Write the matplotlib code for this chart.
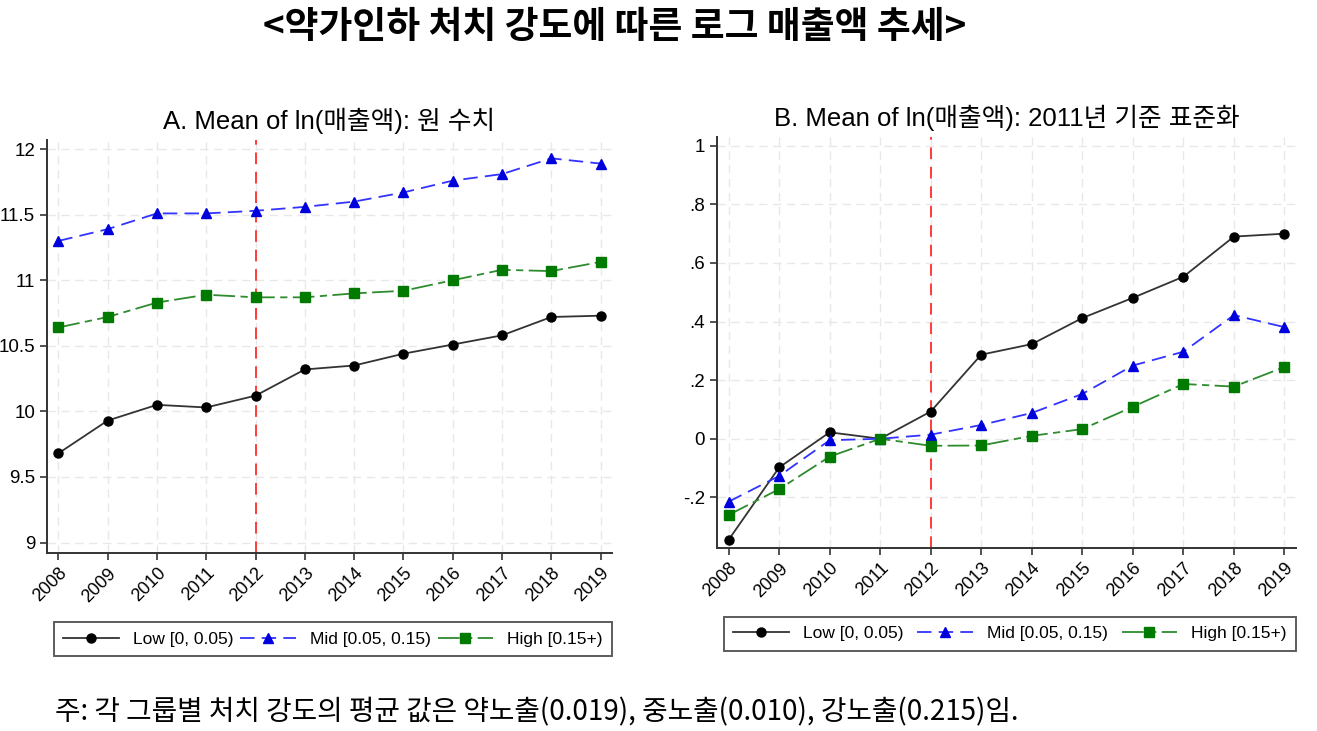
import numpy as np
import matplotlib
matplotlib.use('Agg')
import matplotlib.pyplot as plt
from matplotlib import font_manager

# 데이터
years = [2008, 2009, 2010, 2011, 2012, 2013, 2014, 2015, 2016, 2017, 2018, 2019]

raw_low = [9.68, 9.93, 10.05, 10.03, 10.12, 10.32, 10.35, 10.44, 10.51, 10.58, 10.72, 10.73]
raw_mid = [11.30, 11.39, 11.51, 11.51, 11.53, 11.56, 11.60, 11.67, 11.76, 11.81, 11.93, 11.89]
raw_high = [10.64, 10.72, 10.83, 10.89, 10.87, 10.87, 10.90, 10.92, 11.00, 11.08, 11.07, 11.14]

std_low = [-0.345, -0.098, 0.022, 0.0, 0.093, 0.287, 0.323, 0.412, 0.481, 0.553, 0.690, 0.700]
std_mid = [-0.215, -0.127, -0.005, 0.0, 0.014, 0.047, 0.088, 0.153, 0.250, 0.297, 0.422, 0.381]
std_high = [-0.260, -0.172, -0.061, 0.0, -0.024, -0.023, 0.010, 0.033, 0.109, 0.187, 0.178, 0.245]

group_labels = ['Low [0, 0.05)', 'Mid [0.05, 0.15)', 'High [0.15+)']

left_yticks = [9, 9.5, 10, 10.5, 11, 11.5, 12]
left_yticklabels = ['9', '9.5', '10', '10.5', '11', '11.5', '12']
right_yticks = [-0.2, 0, 0.2, 0.4, 0.6, 0.8, 1.0]
right_yticklabels = ['-.2', '0', '.2', '.4', '.6', '.8', '1']

main_title = '<약가인하 처치 강도에 따른 로그 매출액 추세>'
title_a = 'A. Mean of ln(매출액): 원 수치'
title_b = 'B. Mean of ln(매출액): 2011년 기준 표준화'
note = '주: 각 그룹별 처치 강도의 평균 값은 약노출(0.019), 중노출(0.010), 강노출(0.215)임.'
cutoff_year = 2012

# 폰트
installed = {f.name for f in font_manager.fontManager.ttflist}
narrow = 'Liberation Sans Narrow' if 'Liberation Sans Narrow' in installed else 'Liberation Sans'
TXT = [narrow, 'Noto Sans CJK KR', 'DejaVu Sans']
KR = ['Noto Sans CJK KR', 'DejaVu Sans']
plt.rcParams['font.family'] = TXT

STYLES = [
    dict(color='#333333', marker='o', ls='-', mfc='black', mec='black'),
    dict(color='#3333ff', marker='^', ls=(0, (8, 4)), mfc='#0000dd', mec='#0000dd'),
    dict(color='#2e8b2e', marker='s', ls=(0, (12, 3, 4, 3)), mfc='#007a00', mec='#007a00'),
]


def draw_panel(ax, series, title, yticks, ylabels, ylim, title_size):
    for vals, lab, st in zip(series, group_labels, STYLES):
        ax.plot(years, vals, color=st['color'], ls=st['ls'], lw=1.3,
                marker=st['marker'], ms=6.5, mfc=st['mfc'], mec=st['mec'], label=lab)
    ax.axvline(cutoff_year, color='#ff3b3b', ls=(0, (6, 4)), lw=1.4, zorder=1)
    ax.set_xlim(2007.77, 2019.23)
    ax.set_ylim(*ylim)
    ax.set_xticks(years)
    ax.set_xticklabels([str(y) for y in years], rotation=45, ha='right',
                       rotation_mode='anchor', fontsize=13)
    ax.set_yticks(yticks)
    ax.set_yticklabels(ylabels, fontsize=13.5)
    ax.grid(True, color='#e8e8e8', ls=(0, (6, 4)), lw=1)
    ax.set_axisbelow(True)
    for s in ['top', 'right']:
        ax.spines[s].set_visible(False)
    for s in ['left', 'bottom']:
        ax.spines[s].set_color('#333333')
        ax.spines[s].set_linewidth(1.4)
    ax.tick_params(direction='out', length=5, width=1.2, color='#333333')
    ax.set_title(title, fontsize=title_size, pad=8, family=['Liberation Sans', 'Noto Sans CJK KR'])
    leg = ax.legend(loc='upper left', bbox_to_anchor=(0.012, -0.25, 0.988, 0.083),
                    mode='expand', ncol=3, fontsize=12.5, frameon=True, fancybox=False,
                    handlelength=3.2, borderaxespad=0, borderpad=0.55)
    leg.get_frame().set_edgecolor('#333333')
    leg.get_frame().set_linewidth(1.4)


fig = plt.figure(figsize=(13.17, 7.31), dpi=100)
ax1 = fig.add_axes([0.0357, 0.2435, 0.429, 0.565])
ax2 = fig.add_axes([0.5444, 0.2503, 0.4397, 0.5623])

draw_panel(ax1, [raw_low, raw_mid, raw_high], title_a, left_yticks, left_yticklabels,
           (8.92, 12.07), 18.5)
draw_panel(ax2, [std_low, std_mid, std_high], title_b, right_yticks, right_yticklabels,
           (-0.373, 1.03), 18.5)

fig.text(0.467, 0.962, main_title, ha='center', va='center', fontsize=26.5,
         fontweight='bold', family=KR)
fig.text(0.042, 0.026, note, ha='left', va='center', fontsize=20, family=KR)

fig.savefig('out.png', dpi=100, facecolor='white')
